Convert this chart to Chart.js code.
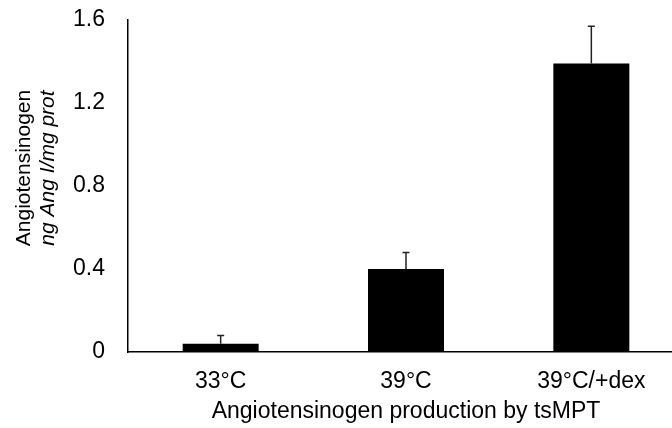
<!DOCTYPE html>
<html>
<head>
<meta charset="utf-8">
<script src="https://cdn.jsdelivr.net/npm/chart.js@4"></script>
<style>
  html, body { margin: 0; padding: 0; background: #fff; overflow: hidden; }
  #wrap { width: 684px; height: 428px; }
</style>
</head>
<body>
<div id="wrap"><canvas id="angChart"></canvas></div>
<script>
// values
var categories = ['33°C', '39°C', '39°C/+dex'];
var means = [0.04, 0.40, 1.39];
var errors = [0.04, 0.08, 0.18];
var yTicks = [0, 0.4, 0.8, 1.2, 1.6];

var fontFamily = '"Liberation Sans", Arial, Helvetica, sans-serif';
var fontSize = 23;

// error bars drawn from the scale, chart.js has none built in
var errorBarPlugin = {
    id: 'errorBars',
    afterDatasetsDraw: function(chart) {
        var ctx = chart.ctx;
        var yScale = chart.scales.y;
        var meta = chart.getDatasetMeta(0);
        ctx.save();
        ctx.strokeStyle = '#222';
        ctx.lineWidth = 1.5;
        meta.data.forEach(function(bar, i) {
            var yTop = yScale.getPixelForValue(means[i] + errors[i]);
            var yBase = yScale.getPixelForValue(means[i]);
            ctx.beginPath();
            ctx.moveTo(bar.x, yBase);
            ctx.lineTo(bar.x, yTop);
            ctx.moveTo(bar.x - 3.5, yTop);
            ctx.lineTo(bar.x + 3.5, yTop);
            ctx.stroke();
        });
        ctx.restore();
    }
};

// two-line y title, second line italic
var yTitlePlugin = {
    id: 'yTitle',
    afterDraw: function(chart) {
        var ctx = chart.ctx;
        ctx.save();
        ctx.fillStyle = '#000';
        ctx.textAlign = 'center';
        ctx.textBaseline = 'middle';
        ctx.translate(24, 168);
        ctx.rotate(-Math.PI / 2);
        ctx.font = '21px ' + fontFamily;
        ctx.fillText('Angiotensinogen', 0, 0);
        ctx.font = 'italic 21px ' + fontFamily;
        ctx.fillText('ng Ang I/mg prot', 0, 24);
        ctx.restore();
    }
};

var ctx1 = document.getElementById('angChart').getContext('2d');
var angChart = new Chart(ctx1, {
    type: 'bar',
    data: {
        labels: categories,
        datasets: [{
            data: means,
            backgroundColor: '#000',
            borderWidth: 0,
            barPercentage: 0.41,
            categoryPercentage: 1.0
        }]
    },
    options: {
        responsive: true,
        maintainAspectRatio: false,
        animation: false,
        layout: { padding: { top: 20, left: 0, right: 0, bottom: 0 } },
        plugins: {
            legend: { display: false },
            tooltip: { enabled: false }
        },
        scales: {
            x: {
                grid: { display: false, drawTicks: false },
                border: { display: true, color: '#000', width: 1.5 },
                ticks: {
                    color: '#000',
                    padding: 16,
                    font: { family: fontFamily, size: fontSize }
                },
                title: {
                    display: true,
                    text: 'Angiotensinogen production by tsMPT',
                    color: '#000',
                    padding: { top: 0, bottom: 3 },
                    font: { family: fontFamily, size: fontSize }
                },
                afterFit: function(scale) { scale.height = 76; }
            },
            y: {
                min: 0,
                max: 1.6,
                afterBuildTicks: function(scale) {
                    scale.ticks = yTicks.map(function(v) { return { value: v }; });
                },
                // invisible tick length gives the label gap without pushing the top down
                grid: { display: true, drawOnChartArea: false, drawTicks: true, tickLength: 19, color: 'rgba(0,0,0,0)' },
                border: { display: true, color: '#000', width: 1.5 },
                ticks: {
                    color: '#000',
                    padding: 4,
                    font: { family: fontFamily, size: fontSize }
                },
                afterFit: function(scale) { scale.width = 128; }
            }
        }
    },
    plugins: [errorBarPlugin, yTitlePlugin]
});
</script>
</body>
</html>
